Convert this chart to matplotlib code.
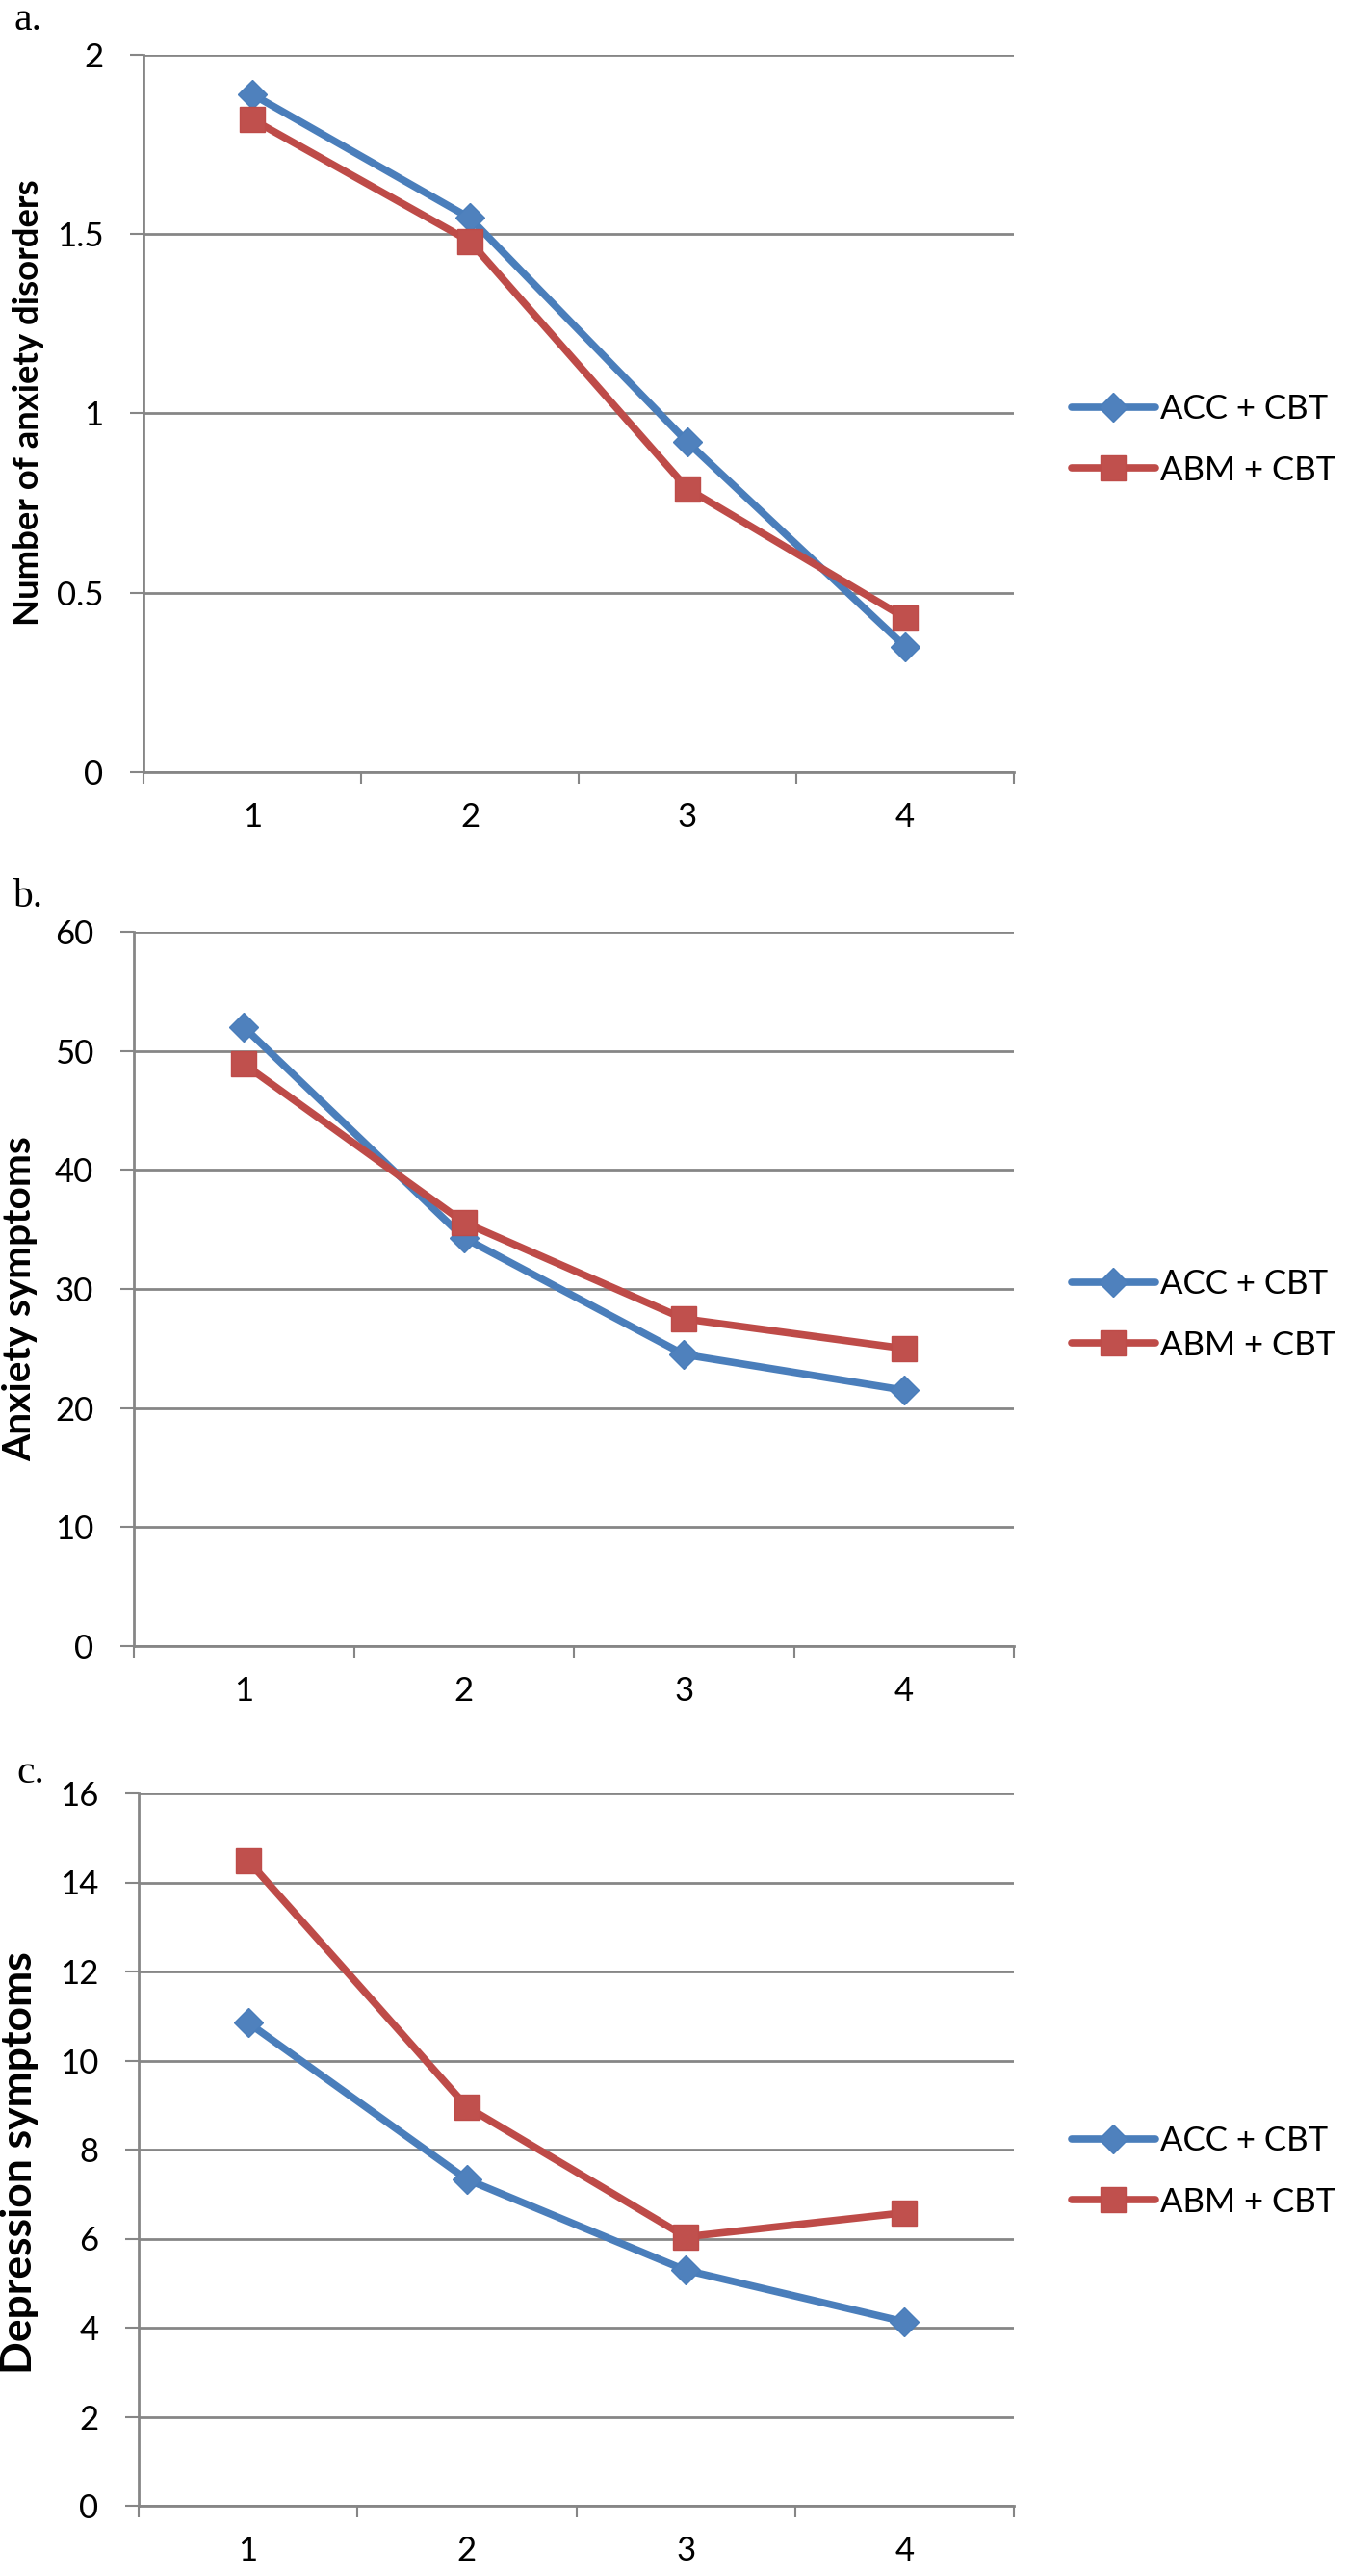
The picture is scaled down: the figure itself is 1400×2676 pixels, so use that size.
import matplotlib
matplotlib.use("Agg")
import matplotlib.pyplot as plt
from matplotlib.lines import Line2D
import numpy as np

# ---------------- data ----------------
sessions = [1, 2, 3, 4]
series_names = ["ACC + CBT", "ABM + CBT"]

disorders_acc = [1.89, 1.545, 0.92, 0.35]
disorders_abm = [1.82, 1.48, 0.79, 0.43]

anxiety_acc = [52.0, 34.3, 24.5, 21.5]
anxiety_abm = [48.9, 35.6, 27.5, 25.0]

depression_acc = [10.85, 7.33, 5.29, 4.13]
depression_abm = [14.49, 8.96, 6.04, 6.58]

yticks_a = [0, 0.5, 1, 1.5, 2]
yticklabels_a = ["0", "0.5", "1", "1.5", "2"]
yticks_b = [0, 10, 20, 30, 40, 50, 60]
yticklabels_b = ["0", "10", "20", "30", "40", "50", "60"]
yticks_c = [0, 2, 4, 6, 8, 10, 12, 14, 16]
yticklabels_c = ["0", "2", "4", "6", "8", "10", "12", "14", "16"]

ylabels = ["Number of anxiety disorders", "Anxiety symptoms", "Depression symptoms"]
panel_letters = ["a.", "b.", "c."]

# ---------------- style ----------------
W, H, DPI = 1400, 2676, 100
BLUE_LINE = "#4A7EBB"
BLUE_FILL = "#4F81BD"
RED_LINE = "#BE4B48"
RED_FILL = "#C0504D"
GRAY = "#868686"
SANS = ["Lato", "DejaVu Sans"]
SERIF = ["Liberation Serif", "DejaVu Serif"]

plt.rcParams["font.family"] = SANS

fig = plt.figure(figsize=(W / DPI, H / DPI), dpi=DPI)
fig.patch.set_facecolor("white")

# panel layout in pixels: (left, right, top, bottom)
layout = [
    (149, 1053, 57, 802),
    (139, 1053, 968, 1710),
    (144, 1053, 1863, 2603),
]
letter_pos = [(14, 31), (13, 942), (17, 1852)]
ylabel_pos = [(30, 418), (21, 1349), (20, 2247)]
ylabel_len = [465, 337, 438]
legend_pos = [(1113, 457), (1113, 1366), (1113, 2256)]

panels = [
    (disorders_acc, disorders_abm, yticks_a, yticklabels_a),
    (anxiety_acc, anxiety_abm, yticks_b, yticklabels_b),
    (depression_acc, depression_abm, yticks_c, yticklabels_c),
]

px = lambda v: v / W
py = lambda v: 1 - v / H

renderer = fig.canvas.get_renderer()

for i, (acc, abm, yt, ytl) in enumerate(panels):
    l, r, t, b = layout[i]
    ax = fig.add_axes([px(l), py(b), (r - l) / W, (b - t) / H])
    ax.set_xlim(0.5, 4.5)
    ax.set_ylim(yt[0], yt[-1])

    for sp in ["top", "right"]:
        ax.spines[sp].set_visible(False)
    for sp in ["left", "bottom"]:
        ax.spines[sp].set_color(GRAY)
        ax.spines[sp].set_linewidth(2.0)

    ax.set_yticks(yt)
    ax.set_yticklabels(ytl)
    ax.yaxis.grid(True, color=GRAY, linewidth=2.0)
    ax.set_axisbelow(True)
    ax.tick_params(axis="y", length=10, width=1.5, color=GRAY, pad=20,
                   labelsize=25, direction="out")

    ax.set_xticks(sessions)
    ax.set_xticklabels([str(s) for s in sessions])
    ax.set_xticks(np.arange(0.5, 4.6, 1.0), minor=True)
    ax.tick_params(axis="x", which="major", length=0, pad=22, labelsize=25)
    ax.tick_params(axis="x", which="minor", length=8.6, width=1.5,
                   color=GRAY, direction="out")

    ax.plot(sessions, acc, color=BLUE_LINE, linewidth=5.5, marker="D",
            markersize=15, markerfacecolor=BLUE_FILL, markeredgecolor=BLUE_LINE,
            markeredgewidth=1, zorder=3, clip_on=False, solid_capstyle="round")
    ax.plot(sessions, abm, color=RED_LINE, linewidth=5.5, marker="s",
            markersize=19, markerfacecolor=RED_FILL, markeredgecolor=RED_LINE,
            markeredgewidth=1, zorder=4, clip_on=False, solid_capstyle="round")

    # panel letter
    lx, ly = letter_pos[i]
    fig.text(px(lx), py(ly), panel_letters[i], family=SERIF, fontsize=30,
             ha="left", va="baseline")
    # y label, sized to match the reference length
    yx, yy = ylabel_pos[i]
    lab = fig.text(px(yx), py(yy), ylabels[i], rotation=90, fontsize=20,
                   fontweight="bold", ha="center", va="center")
    ext = lab.get_window_extent(renderer=renderer)
    lab.set_fontsize(20 * ylabel_len[i] / ext.height)

    handles = [
        Line2D([], [], color=BLUE_LINE, linewidth=5.5, marker="D",
               markersize=15, markerfacecolor=BLUE_FILL,
               markeredgecolor=BLUE_LINE, solid_capstyle="round"),
        Line2D([], [], color=RED_LINE, linewidth=5.5, marker="s",
               markersize=19, markerfacecolor=RED_FILL,
               markeredgecolor=RED_LINE, solid_capstyle="round"),
    ]
    gx, gy = legend_pos[i]
    fig.legend(handles, series_names, loc="center left",
               bbox_to_anchor=(px(gx), py(gy)), frameon=False, fontsize=25,
               handlelength=2.5, handletextpad=0.15, labelspacing=0.9,
               borderpad=0, borderaxespad=0)

fig.savefig("out.png", dpi=DPI, facecolor="white")
